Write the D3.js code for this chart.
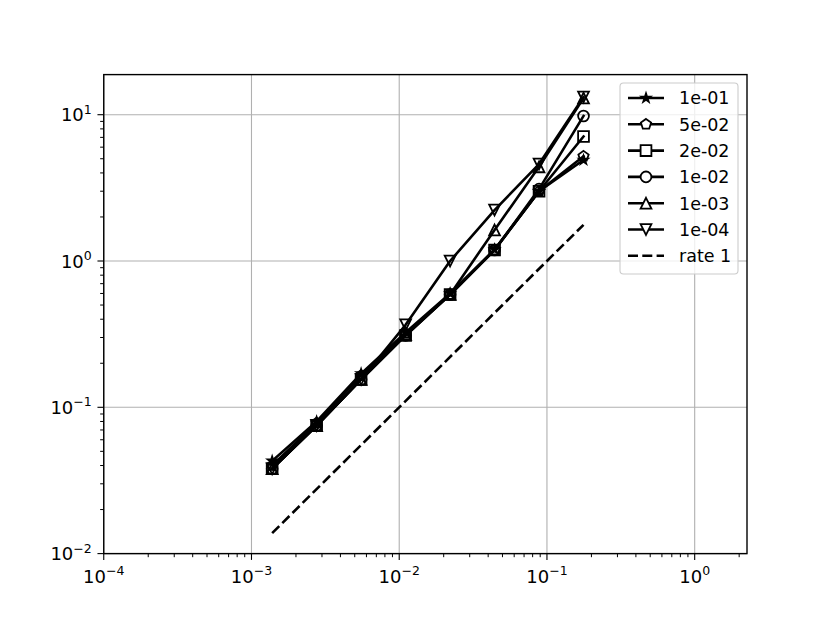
<!DOCTYPE html>
<html><head><meta charset="utf-8">
<script src="https://cdn.jsdelivr.net/npm/d3@7"></script>
<style>body{margin:0;background:#fff}svg{display:block}text{font-family:"DejaVu Sans",sans-serif}</style>
</head><body>
<svg id="c" width="830" height="622"></svg>
<script>
// Data
const hValues = [0.00138, 0.00276, 0.00552, 0.01105, 0.0221, 0.0442, 0.0884, 0.1768];
const seriesLabels = ["1e-01", "5e-02", "2e-02", "1e-02", "1e-03", "1e-04"];
const seriesMarkers = ["star", "pentagon", "square", "circle", "triUp", "triDown"];
const err_1e01 = [0.043, 0.080, 0.170, 0.325, 0.60, 1.20, 3.00, 4.90];
const err_5e02 = [0.040, 0.078, 0.165, 0.320, 0.59, 1.19, 3.00, 5.20];
const err_2e02 = [0.038, 0.075, 0.155, 0.310, 0.59, 1.19, 3.00, 7.10];
const err_1e02 = [0.038, 0.075, 0.155, 0.310, 0.59, 1.19, 3.10, 9.80];
const err_1e03 = [0.038, 0.075, 0.155, 0.315, 0.59, 1.63, 4.40, 13.0];
const err_1e04 = [0.038, 0.075, 0.155, 0.366, 1.00, 2.23, 4.60, 13.2];
const seriesValues = [err_1e01, err_5e02, err_2e02, err_1e02, err_1e03, err_1e04];
const rateLabel = "rate 1";
const rateValues = [0.0138, 1.768];
const rateH = [0.00138, 0.1768];
const xTickExps = [-4, -3, -2, -1, 0];
const yTickExps = [-2, -1, 0, 1];

const svg = d3.select("#c");
const L = 103.75, R = 747, T = 74.6, B = 553.6;
const x = d3.scaleLog().domain([1e-4, 2.26]).range([L, R]);
const y = d3.scaleLog().domain([1e-2, 18.8]).range([B, T]);

// grid
const g = svg.append("g");
xTickExps.forEach(e => {
  const px = x(Math.pow(10, e));
  g.append("line").attr("x1", px).attr("x2", px).attr("y1", T).attr("y2", B)
    .attr("stroke", "#b0b0b0").attr("stroke-width", 1.1);
});
yTickExps.forEach(e => {
  const py = y(Math.pow(10, e));
  g.append("line").attr("x1", L).attr("x2", R).attr("y1", py).attr("y2", py)
    .attr("stroke", "#b0b0b0").attr("stroke-width", 1.1);
});

// markers
const S = 5.4;
function polyPath(n, r, rot, inner) {
  const pts = [];
  const m = inner ? n * 2 : n;
  for (let i = 0; i < m; i++) {
    const a = rot + i * Math.PI * 2 / m;
    const rr = inner && (i % 2 === 1) ? r * inner : r;
    pts.push([rr * Math.sin(a), -rr * Math.cos(a)]);
  }
  return "M" + pts.map(p => p[0].toFixed(2) + "," + p[1].toFixed(2)).join("L") + "Z";
}
function markerPath(t) {
  switch (t) {
    case "star": return polyPath(5, 4.6, 0, 0.381966);
    case "pentagon": return polyPath(5, S, 0);
    case "square": return `M${-S},${-S}H${S}V${S}H${-S}Z`;
    case "circle": return d3.symbol(d3.symbolCircle, Math.PI * S * S)();
    case "triUp": return `M0,${-S}L${S},${S}L${-S},${S}Z`;
    case "triDown": return `M0,${S}L${S},${-S}L${-S},${-S}Z`;
  }
}
const lw = 2.6;
const line = d3.line().x(d => x(d[0])).y(d => y(d[1]));
const plot = svg.append("g");
seriesValues.forEach((vals, i) => {
  const pts = hValues.map((h, j) => [h, vals[j]]);
  plot.append("path").attr("d", line(pts)).attr("fill", "none")
    .attr("stroke", "#000").attr("stroke-width", lw).attr("stroke-linejoin", "round").attr("stroke-linecap", "square");
  pts.forEach(p => {
    plot.append("path").attr("d", markerPath(seriesMarkers[i]))
      .attr("transform", `translate(${x(p[0])},${y(p[1])})`)
      .attr("fill", seriesMarkers[i] === "star" ? "#000" : "none")
      .attr("stroke", "#000").attr("stroke-width", 1.8).attr("stroke-linejoin", "miter");
  });
});
plot.append("path").attr("d", line(rateH.map((h, j) => [h, rateValues[j]])))
  .attr("fill", "none").attr("stroke", "#000").attr("stroke-width", lw)
  .attr("stroke-dasharray", "10,4.3");

// spines
svg.append("rect").attr("x", L).attr("y", T).attr("width", R - L).attr("height", B - T)
  .attr("fill", "none").attr("stroke", "#000").attr("stroke-width", 1.4);

// ticks
const ax = svg.append("g");
function minorTicks(scale, lo, hi) {
  const out = [];
  for (let e = lo; e <= hi; e++) for (let k = 2; k <= 9; k++) {
    const v = k * Math.pow(10, e);
    const d = scale.domain();
    if (v > d[0] && v < d[1]) out.push(v);
  }
  return out;
}
minorTicks(x, -4, 0).forEach(v => {
  ax.append("line").attr("x1", x(v)).attr("x2", x(v)).attr("y1", B).attr("y2", B + 3.6).attr("stroke", "#000").attr("stroke-width", 1);
});
minorTicks(y, -2, 1).forEach(v => {
  ax.append("line").attr("y1", y(v)).attr("y2", y(v)).attr("x1", L).attr("x2", L - 3.6).attr("stroke", "#000").attr("stroke-width", 1);
});
function supLabel(sel, e) {
  sel.append("tspan").text("10");
  sel.append("tspan").text(e < 0 ? "\u2212" + (-e) : String(e)).attr("font-size", 12.5).attr("dy", -7.5);
}
xTickExps.forEach(e => {
  const px = x(Math.pow(10, e));
  ax.append("line").attr("x1", px).attr("x2", px).attr("y1", B).attr("y2", B + 6.3).attr("stroke", "#000").attr("stroke-width", 1.1);
  const t = ax.append("text").attr("x", px).attr("y", B + 29).attr("text-anchor", "middle").attr("font-size", 18);
  supLabel(t, e);
});
yTickExps.forEach(e => {
  const py = y(Math.pow(10, e));
  ax.append("line").attr("y1", py).attr("y2", py).attr("x1", L).attr("x2", L - 6.3).attr("stroke", "#000").attr("stroke-width", 1.1);
  const t = ax.append("text").attr("x", L - 12).attr("y", py + 6.5).attr("text-anchor", "end").attr("font-size", 18);
  supLabel(t, e);
});

// legend
const lg = svg.append("g");
const lx = 620, ly = 83, lwid = 118, lh = 191;
lg.append("rect").attr("x", lx).attr("y", ly).attr("width", lwid).attr("height", lh).attr("rx", 3.5)
  .attr("fill", "#fff").attr("fill-opacity", 0.8).attr("stroke", "#cccccc").attr("stroke-width", 1.1);
const entries = seriesLabels.map((l, i) => ({ label: l, marker: seriesMarkers[i] })).concat([{ label: rateLabel, marker: null }]);
entries.forEach((en, i) => {
  const cy = 98 + i * 26.3;
  lg.append("line").attr("x1", 628).attr("x2", 664).attr("y1", cy).attr("y2", cy).attr("stroke", "#000")
    .attr("stroke-width", lw).attr("stroke-dasharray", en.marker ? null : "10,4.3");
  if (en.marker) {
    lg.append("path").attr("d", markerPath(en.marker)).attr("transform", `translate(646,${cy})`)
      .attr("fill", en.marker === "star" ? "#000" : "#fff").attr("stroke", "#000").attr("stroke-width", 1.8);
  }
  lg.append("text").attr("x", 679).attr("y", cy + 6.3).attr("font-size", 17.5).text(en.label);
});
</script>
</body></html>
